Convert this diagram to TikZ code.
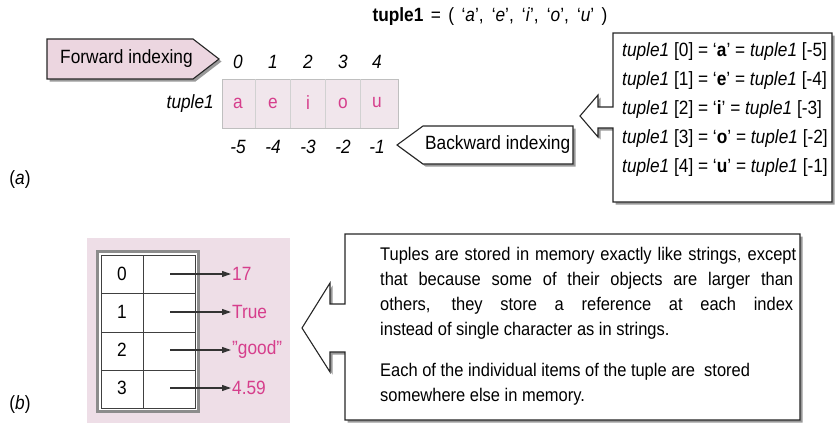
\documentclass[tikz,border=0pt]{standalone}
\usepackage{fontspec}
\setmainfont[FakeStretch=0.9]{Liberation Sans}
\usetikzlibrary{shadows,arrows.meta}

\definecolor{tagpink}{RGB}{236,214,224}
\definecolor{cellpink}{RGB}{241,230,236}
\definecolor{memback}{RGB}{238,222,231}
\definecolor{valmag}{RGB}{214,62,140}

\tikzset{
  txt/.style={font=\fontsize{19.2}{22}\selectfont, inner sep=0pt},
  itxt/.style={font=\fontsize{19.2}{22}\selectfont\itshape, inner sep=0pt},
  body/.style={font=\fontsize{18.3}{20}\selectfont, inner sep=0pt, anchor=west},
  letter/.style={txt, text=valmag},
  val/.style={txt, text=valmag, anchor=west, inner sep=1pt},
  callout/.style={draw=black!85, line width=1.1pt, fill=white,
    drop shadow={shadow xshift=2.5pt, shadow yshift=-2.5pt, fill=black!50, opacity=.8}},
  tag/.style={callout, fill=tagpink},
  ref/.style={-{Triangle[length=9pt,width=6pt]}, line width=1.1pt, black!80},
}

\begin{document}
\begin{tikzpicture}[x=1pt, y=-1pt]
\useasboundingbox (0,0) rectangle (835,423);

% ---------- (a) indexing ----------
\node[txt] (title) at (490,17) {\makebox[235pt][s]{\textbf{tuple1} = ( `\textit{a}', `\textit{e}', `\textit{i}', `\textit{o}', `\textit{u}' )}};

% forward indexing tag
\draw[tag] (47,39) -- (193,39) -- (219,59) -- (193,79) -- (47,79) -- cycle;
\node[txt, anchor=west] (fwd) at (60,59) {Forward indexing};

% positive indices
\foreach \i/\x in {0/238,1/273,2/308,3/343,4/377}
  \node[itxt] (p\i) at (\x,62) {\i};

% cells of the tuple
\draw[draw=black!25, fill=cellpink] (222,79) rectangle (398,128);
\foreach \x in {255.5,290.5,325.5,360.5}
  \draw[black!18] (\x,79) -- (\x,128);
\node[itxt, anchor=east] (tname) at (214,104) {tuple1};
\foreach \c/\x in {a/238,e/273,i/308,o/343,u/377}
  \node[letter] (c\c) at (\x,103) {\c};

% negative indices
\foreach \n/\x in {5/238,4/273,3/308,2/343,1/377}
  \node[itxt] (m\n) at (\x,147) {-\n};

% backward indexing tag
\draw[callout] (397,145) -- (423,126) -- (573,126) -- (573,164) -- (423,164) -- cycle;
\node[txt, anchor=west] (bwd) at (425,145) {Backward indexing};

% equivalence box
\draw[callout] (613,33) -- (832,33) -- (832,202) -- (613,202) -- (613,128)
  -- (598,128) -- (598,137) -- (580,116) -- (598,95) -- (598,107) -- (613,107) -- cycle;
\node[txt, anchor=west] (e0) at (622,52)  {\textit{tuple1} [0] = `\textbf{a}' = \textit{tuple1} [-5]};
\node[txt, anchor=west] (e1) at (622,81)  {\textit{tuple1} [1] = `\textbf{e}' = \textit{tuple1} [-4]};
\node[txt, anchor=west] (e2) at (622,110) {\textit{tuple1} [2] = `\textbf{i}' = \textit{tuple1} [-3]};
\node[txt, anchor=west] (e3) at (622,139) {\textit{tuple1} [3] = `\textbf{o}' = \textit{tuple1} [-2]};
\node[txt, anchor=west] (e4) at (622,168) {\textit{tuple1} [4] = `\textbf{u}' = \textit{tuple1} [-1]};

\node[txt] (laba) at (20,180) {(\textit{a})};

% ---------- (b) memory layout ----------
\fill[memback] (87,238) rectangle (290,423);
\draw[black!45, line width=3pt, fill=white] (97,251) rectangle (198,411);
\draw[black!75, line width=0.9pt] (101,255) rectangle (195,408);
\foreach \y in {293,332,370}
  \draw[black!75, line width=0.9pt] (101,\y) -- (195,\y);
\draw[black!75, line width=0.9pt] (143,255) -- (143,408);

\foreach \k/\y/\v in {0/274/17,1/312/True,2/350/"good",3/388/4.59}{
  \node[txt] (k\k) at (122,\y) {\k};
  \coordinate (s\k) at (170,\y);
  \node[val] (v\k) at (231,\y) {\v};
  \draw[ref] (s\k) -- (v\k.west);
}

% explanation box
\draw[callout] (345,234) -- (800,234) -- (800,420) -- (345,420) -- (345,352)
  -- (330,352) -- (330,372) -- (302,328) -- (330,283) -- (330,304) -- (345,304) -- cycle;
\node[body] (t1) at (380,256) {\makebox[416pt][s]{Tuples are stored in memory exactly like strings, except}};
\node[body] (t2) at (380,281) {\makebox[413pt][s]{that because some of their objects are larger than}};
\node[body] (t3) at (380,306) {\makebox[413pt][s]{others, they store a reference at each index}};
\node[body] (t4) at (380,331) {instead of single character as in strings.};
\node[body] (t5) at (380,372) {Each of the individual items of the tuple are\ \ stored};
\node[body] (t6) at (380,397) {somewhere else in memory.};

\node[txt] (labb) at (20,405) {(\textit{b})};
\end{tikzpicture}
\end{document}
